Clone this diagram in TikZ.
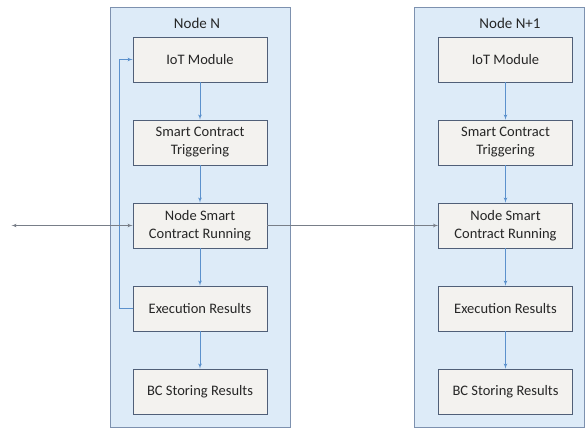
\documentclass[tikz,border=0pt]{standalone}
\usepackage{fontspec}
\setmainfont{Carlito}
\usetikzlibrary{arrows,calc}
\definecolor{nodefill}{RGB}{221,235,248}
\definecolor{nodeline}{RGB}{125,145,175}
\definecolor{stepfill}{RGB}{243,242,239}
\definecolor{stepline}{RGB}{80,95,120}
\definecolor{flowblue}{RGB}{91,145,205}
\definecolor{flowgray}{RGB}{120,126,136}
\definecolor{txt}{RGB}{38,38,38}

\begin{document}
\begin{tikzpicture}[x=1pt, y=1pt,
  container/.style={rectangle, draw=nodeline, fill=nodefill, line width=0.8pt},
  stepbox/.style={rectangle, draw=stepline, fill=stepfill, line width=0.9pt, %
        text=txt, align=center, minimum width=134, minimum height=45, %
        font=\fontsize{14.5}{18}\selectfont},
  heading/.style={text=txt, font=\fontsize{15}{18}\selectfont},
  flow/.style={-latex', flowblue, line width=0.7pt},
  link/.style={-latex', flowgray, line width=0.7pt}]
  \useasboundingbox (0,0) rectangle (585,429);
%
  \node[container, minimum width=180, minimum height=420] (NodeN) at (200,212) {};
  \node[container, minimum width=170, minimum height=420] (NodeN1) at (499,212) {};
%
  \node[stepbox] (IoTN) at (200,369.5) {IoT Module};
  \node[stepbox, below of=IoTN, node distance=83] (TrigN) {Smart Contract\\Triggering};
  \node[stepbox, below of=TrigN, node distance=83] (RunN) {Node Smart\\Contract Running};
  \node[stepbox, below of=RunN, node distance=83] (ExecN) {Execution Results};
  \node[stepbox, below of=ExecN, node distance=83] (StoreN) {BC Storing Results};
  \node[heading] (TitleN) at (197,406) {Node N};
%
  \node[stepbox] (IoTN1) at (505.5,369.5) {IoT Module};
  \node[stepbox, below of=IoTN1, node distance=83] (TrigN1) {Smart Contract\\Triggering};
  \node[stepbox, below of=TrigN1, node distance=83] (RunN1) {Node Smart\\Contract Running};
  \node[stepbox, below of=RunN1, node distance=83] (ExecN1) {Execution Results};
  \node[stepbox, below of=ExecN1, node distance=83] (StoreN1) {BC Storing Results};
  \node[heading] (TitleN1) at (510,406) {Node N+1};
%
  \coordinate (PrevN) at ($(RunN.west)+(-121,0)$);
%
  \draw[flow] (IoTN) -- (TrigN);
  \draw[flow] (TrigN) -- (RunN);
  \draw[flow] (RunN) -- (ExecN);
  \draw[flow] (ExecN) -- (StoreN);
  \draw[flow] (ExecN.west) -- ++(-13,0) |- (IoTN.west);
  \draw[flow] (IoTN1) -- (TrigN1);
  \draw[flow] (TrigN1) -- (RunN1);
  \draw[flow] (RunN1) -- (ExecN1);
  \draw[flow] (ExecN1) -- (StoreN1);
  \draw[link, latex'-latex'] (PrevN) -- (RunN.west);
  \draw[link] (RunN.east) -- (RunN1.west);
\end{tikzpicture}
\end{document}
